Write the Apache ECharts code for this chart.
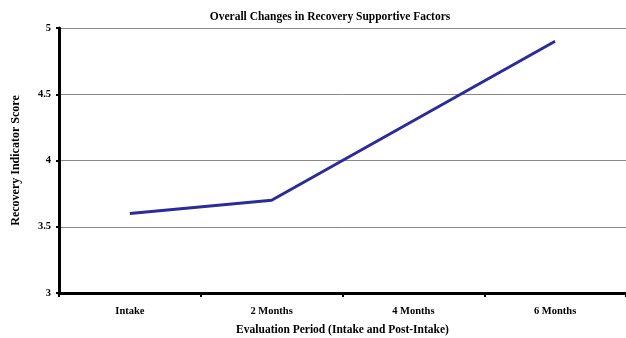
<!DOCTYPE html>
<html><head><meta charset="utf-8">
<script src="https://cdn.jsdelivr.net/npm/echarts@6/dist/echarts.min.js"></script>
<style>html,body{margin:0;padding:0;background:#fff}#c{width:626px;height:338px}</style>
</head><body><div id="c"></div>
<script>
const categories = ['Intake', '2 Months', '4 Months', '6 Months'];
const scores = [3.6, 3.7, 4.3, 4.9];
const yTicks = [3, 3.5, 4, 4.5, 5];

const font = 'Liberation Serif';
const chart = echarts.init(document.getElementById('c'));
chart.setOption({
  animation: false,
  title: {
    text: 'Overall Changes in Recovery Supportive Factors',
    left: 325, top: 6, textAlign: 'center',
    textStyle: { fontFamily: font, fontWeight: 'bold', fontSize: 11.5, color: '#000' }
  },
  grid: { left: 59, right: 0, top: 28, bottom: 45, containLabel: false, outerBoundsMode: 'none' },
  xAxis: {
    type: 'category', data: categories, boundaryGap: true,
    name: 'Evaluation Period (Intake and Post-Intake)',
    nameLocation: 'middle', nameGap: 31,
    nameTextStyle: { fontFamily: font, fontWeight: 'bold', fontSize: 11.5, color: '#000' },
    axisLine: { lineStyle: { color: '#000', width: 3 } },
    axisTick: { show: true, length: 4, lineStyle: { color: '#000', width: 2 } },
    axisLabel: { fontFamily: font, fontWeight: 'bold', fontSize: 10.5, color: '#000', margin: 13 }
  },
  yAxis: {
    type: 'value', min: yTicks[0], max: yTicks[yTicks.length - 1], interval: 0.5,
    name: 'Recovery Indicator Score', nameLocation: 'middle', nameGap: 37,
    nameTextStyle: { fontFamily: font, fontWeight: 'bold', fontSize: 12, color: '#000' },
    axisLine: { show: true, lineStyle: { color: '#000', width: 3 } },
    axisTick: { show: true, length: 3, lineStyle: { color: '#000', width: 2 } },
    axisLabel: { fontFamily: font, fontWeight: 'bold', fontSize: 10.5, color: '#000', margin: 8 },
    splitLine: { lineStyle: { color: '#888', width: 1 } }
  },
  series: [{
    type: 'line', data: scores, symbol: 'none',
    lineStyle: { color: '#2b2b9c', width: 3 }
  }]
});
</script></body></html>
